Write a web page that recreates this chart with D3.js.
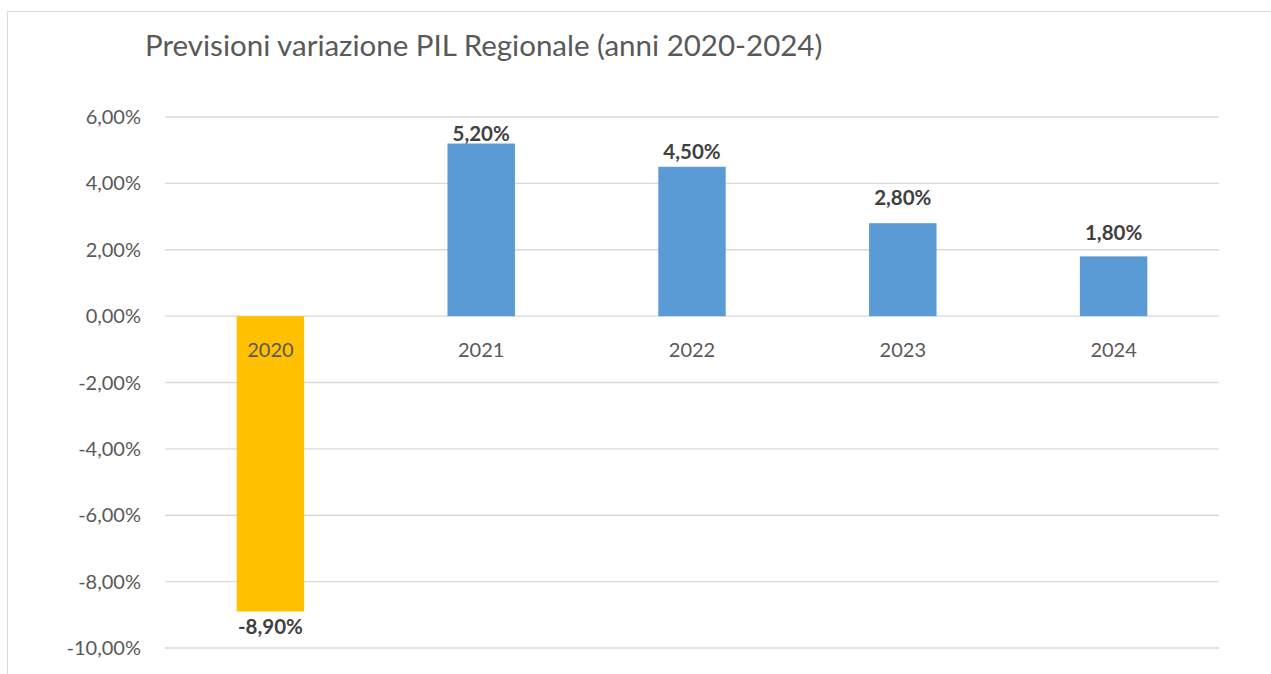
<!DOCTYPE html>
<html>
  <head>
    <meta charset="utf-8">
    <title>Previsioni variazione PIL Regionale</title>
    <style>
      body { margin: 0; background: #fff; }
      svg text { font-family: Lato, "Open Sans", sans-serif; }
    </style>
  </head>
  <body>
    <script src="https://cdn.jsdelivr.net/npm/d3@7"></script>
    <script>
      // dati
      var anni = ["2020", "2021", "2022", "2023", "2024"];
      var valori = [-8.9, 5.2, 4.5, 2.8, 1.8];
      var colori = ["#FFC000", "#5B9BD5", "#5B9BD5", "#5B9BD5", "#5B9BD5"];
      var ticks = [6, 4, 2, 0, -2, -4, -6, -8, -10];
      var titolo = "Previsioni variazione PIL Regionale (anni 2020-2024)";

      // distanza etichetta-barra (spostate a mano nell'originale)
      var scarto = [8, 3, 8, 18, 16];

      var width = 1271, height = 674;
      var svg = d3.select("body").append("svg")
        .attr("width", width)
        .attr("height", height);

      // cornice del grafico
      svg.append("rect")
        .attr("x", 7.5).attr("y", 11.5)
        .attr("width", width).attr("height", height)
        .attr("fill", "none")
        .attr("stroke", "#D9D9D9");

      var x = d3.scaleBand()
        .domain(anni)
        .range([165, 1219])
        .padding(0);

      var y = d3.scaleLinear()
        .domain([-10, 6])
        .range([648, 117]);

      var fmt = function(v) {
        return d3.format(".2f")(v).replace(".", ",").replace("\u2212", "-") + "%";
      };

      // griglia
      svg.append("g")
        .selectAll("line")
        .data(ticks)
        .enter().append("line")
        .attr("x1", 165).attr("x2", 1219)
        .attr("y1", function(d) { return y(d); })
        .attr("y2", function(d) { return y(d); })
        .attr("stroke", "#D9D9D9")
        .attr("stroke-width", 1.3);

      // etichette asse y
      svg.append("g")
        .selectAll("text")
        .data(ticks)
        .enter().append("text")
        .attr("x", 141)
        .attr("y", function(d) { return y(d) + 7; })
        .attr("text-anchor", "end")
        .attr("fill", "#595959")
        .style("font-size", "20px")
        .text(fmt);

      // barre
      var bw = x.bandwidth() * 0.32;
      svg.append("g")
        .selectAll("rect")
        .data(valori)
        .enter().append("rect")
        .attr("x", function(d, i) { return x(anni[i]) + x.bandwidth() / 2 - bw / 2; })
        .attr("y", function(d) { return y(Math.max(0, d)); })
        .attr("width", bw)
        .attr("height", function(d) { return Math.abs(y(d) - y(0)); })
        .attr("fill", function(d, i) { return colori[i]; });

      // etichette categorie
      svg.append("g")
        .selectAll("text")
        .data(anni)
        .enter().append("text")
        .attr("x", function(d) { return x(d) + x.bandwidth() / 2; })
        .attr("y", y(0) + 41)
        .attr("text-anchor", "middle")
        .attr("fill", "#595959")
        .style("font-size", "20px")
        .text(function(d) { return d; });

      // etichette dati
      svg.append("g")
        .selectAll("text")
        .data(valori)
        .enter().append("text")
        .attr("x", function(d, i) { return x(anni[i]) + x.bandwidth() / 2; })
        .attr("y", function(d, i) { return d >= 0 ? y(d) - scarto[i] : y(d) + 23; })
        .attr("text-anchor", "middle")
        .attr("fill", "#404040")
        .style("font-size", "20.5px")
        .style("font-weight", "bold")
        .text(fmt);

      // titolo
      svg.append("text")
        .attr("x", 145)
        .attr("y", 56)
        .attr("fill", "#595959")
        .style("font-size", "29.5px")
        .text(titolo);
    </script>
  </body>
</html>
